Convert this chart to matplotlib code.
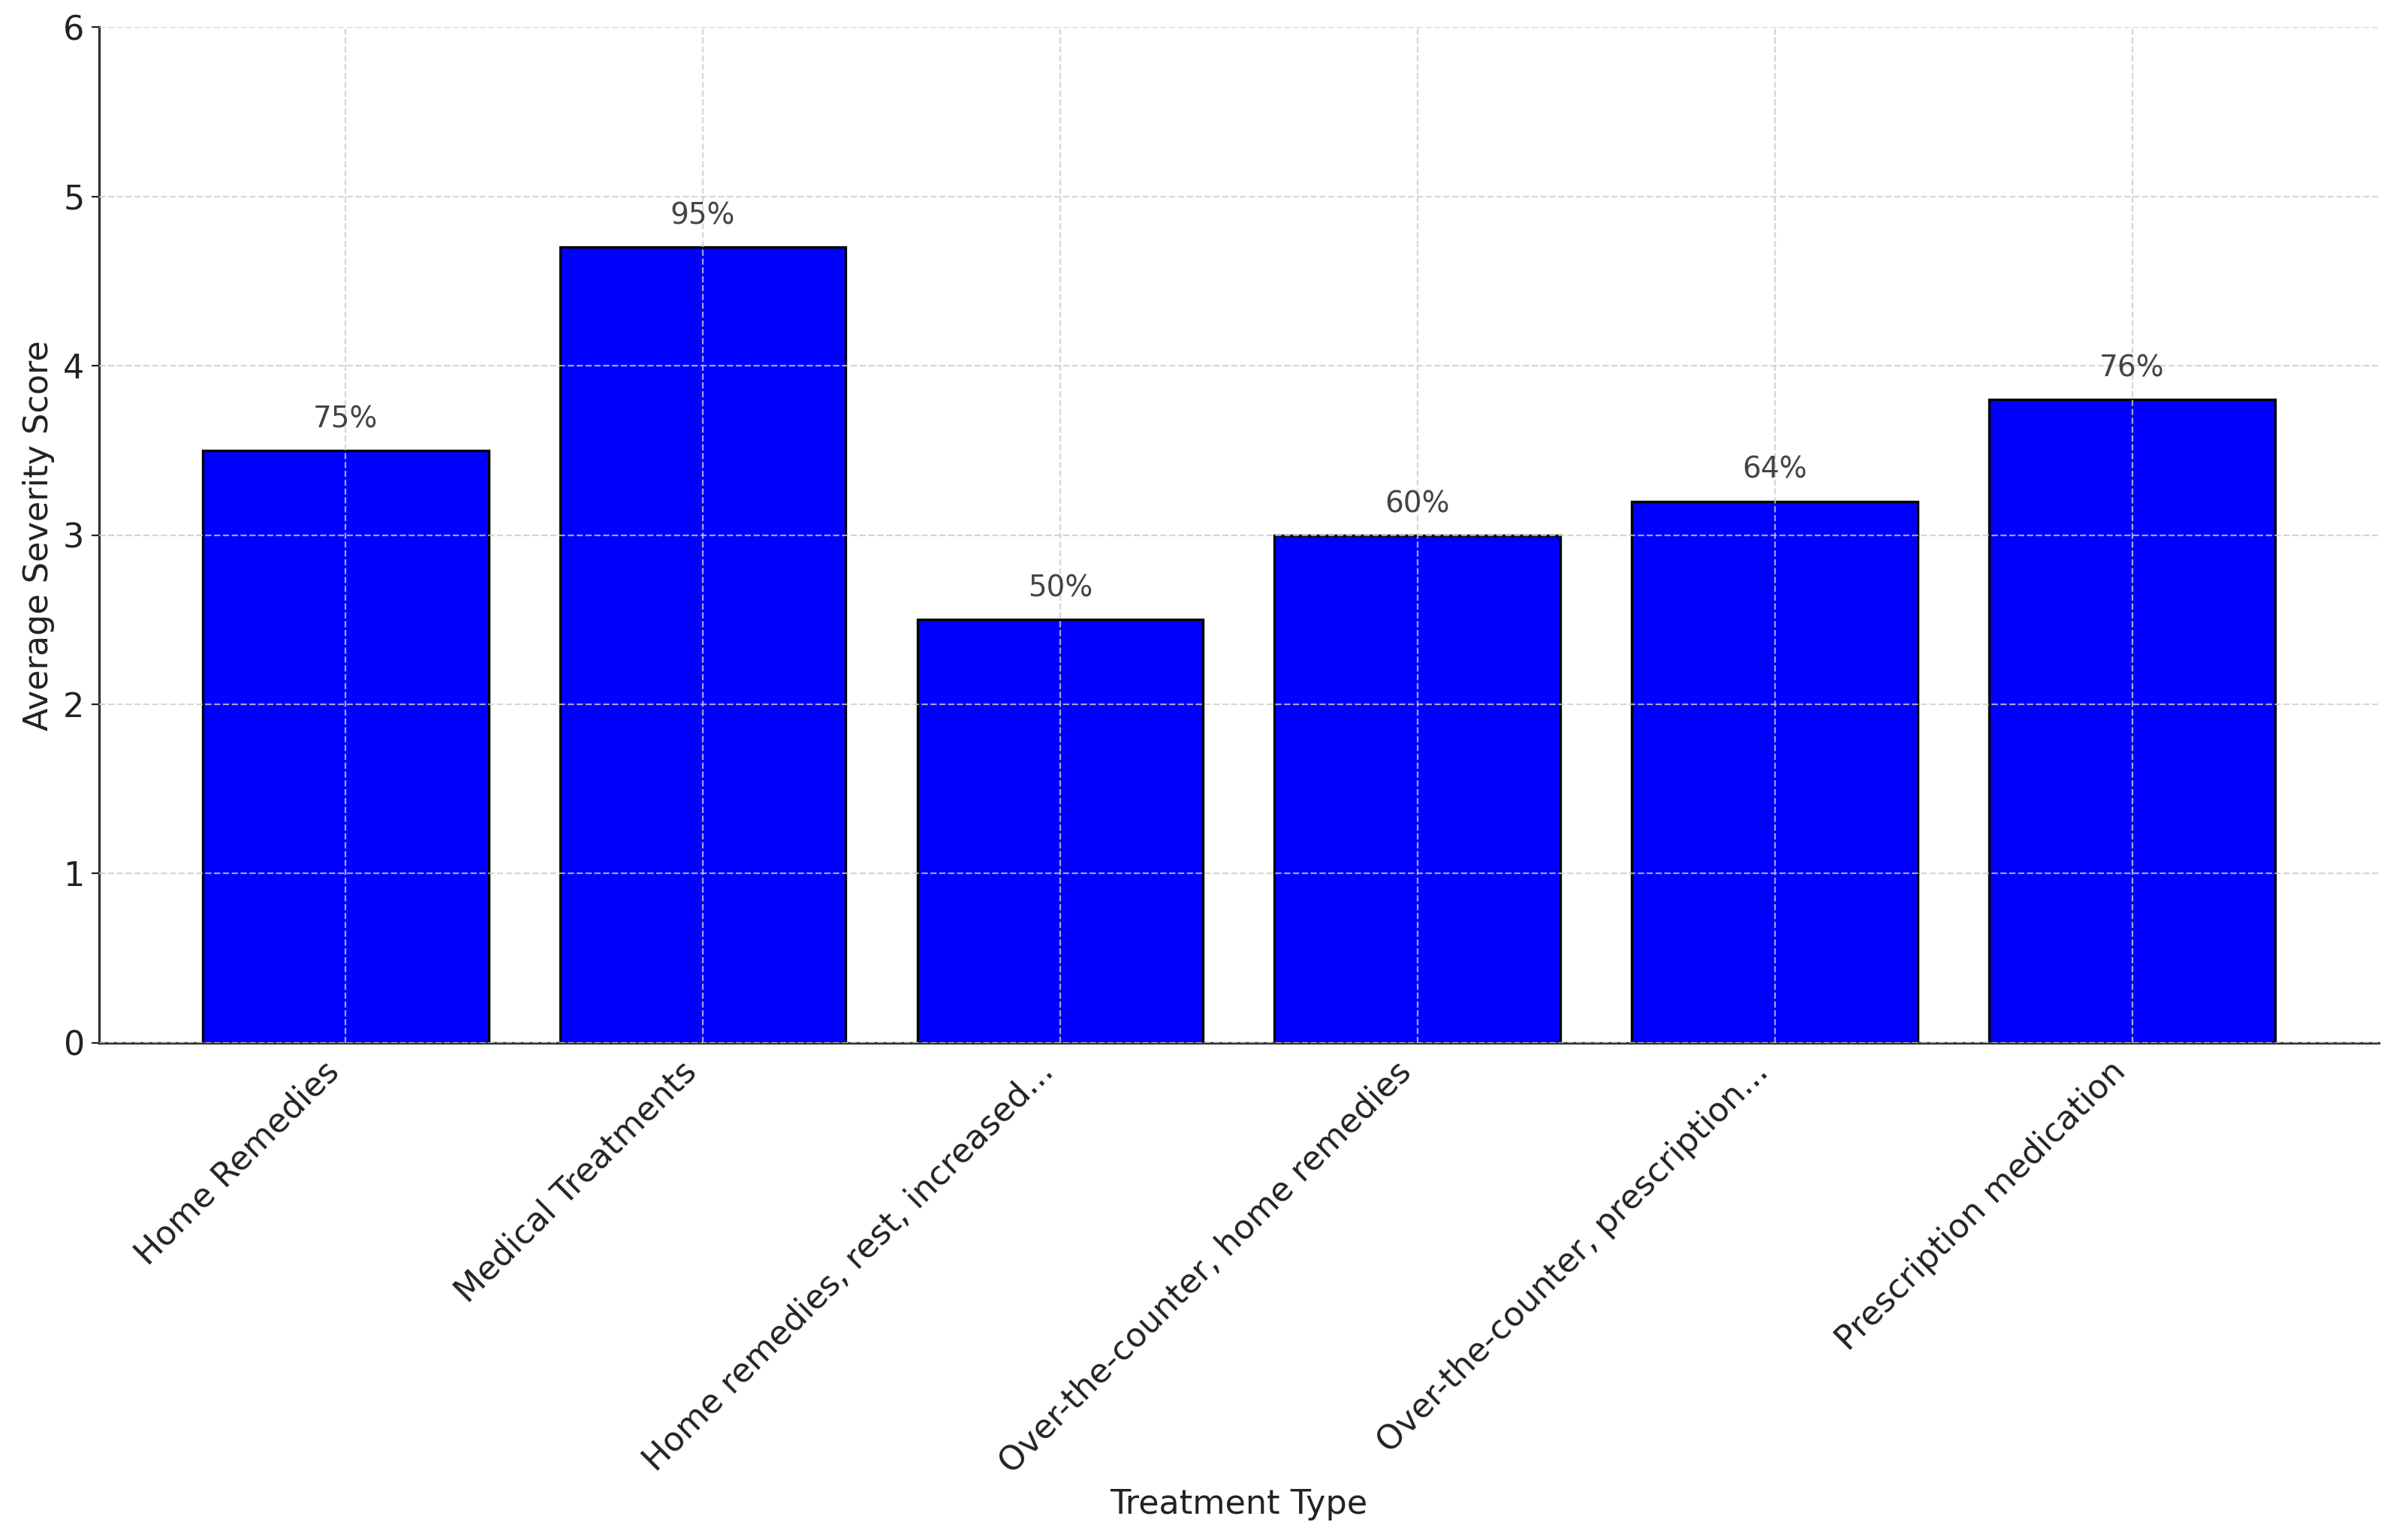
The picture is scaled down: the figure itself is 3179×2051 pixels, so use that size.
import matplotlib
matplotlib.use("Agg")
from matplotlib import pyplot as plt

treatments = ['Home Remedies', 'Medical Treatments', 'Home remedies, rest, increased...',
              'Over-the-counter, home remedies', 'Over-the-counter, prescription...',
              'Prescription medication']
severity = [3.5, 4.7, 2.5, 3.0, 3.2, 3.8]
effectiveness = [75, 95, 50, 60, 64, 76]

plt.rcParams['font.family'] = ['DejaVu Sans']

fig = plt.figure(figsize=(15.895, 10.255), dpi=200)
ax = fig.add_axes([0.0415, 0.3228, 0.955, 0.6595])

x = range(len(treatments))
bars = ax.bar(x, severity, width=0.8, color='blue', edgecolor='black', linewidth=1.2)

for b, pct in zip(bars, effectiveness):
    ax.text(b.get_x() + b.get_width() / 2, b.get_height() + 0.1, f'{pct}%',
            ha='center', va='bottom', fontsize=14, color='#444444')

ax.set_ylim(0, 6)
ax.set_xticks(list(x))
ax.set_xticklabels(treatments, rotation=45, ha='right', fontsize=16, color='#222222')
ax.tick_params(axis='y', labelsize=16, colors='#222222')
ax.tick_params(axis='x', length=0, pad=6)
ax.set_ylabel('Average Severity Score', fontsize=16, color='#222222')
ax.set_xlabel('Treatment Type', fontsize=16, color='#222222')

ax.grid(True, linestyle='--', color='#cccccc', linewidth=0.8, alpha=0.8)
ax.set_axisbelow(False)

for s in ['top', 'right']:
    ax.spines[s].set_visible(False)
for s in ['left', 'bottom']:
    ax.spines[s].set_color('#333333')
    ax.spines[s].set_linewidth(1.2)

fig.savefig('out.png', dpi=200)
